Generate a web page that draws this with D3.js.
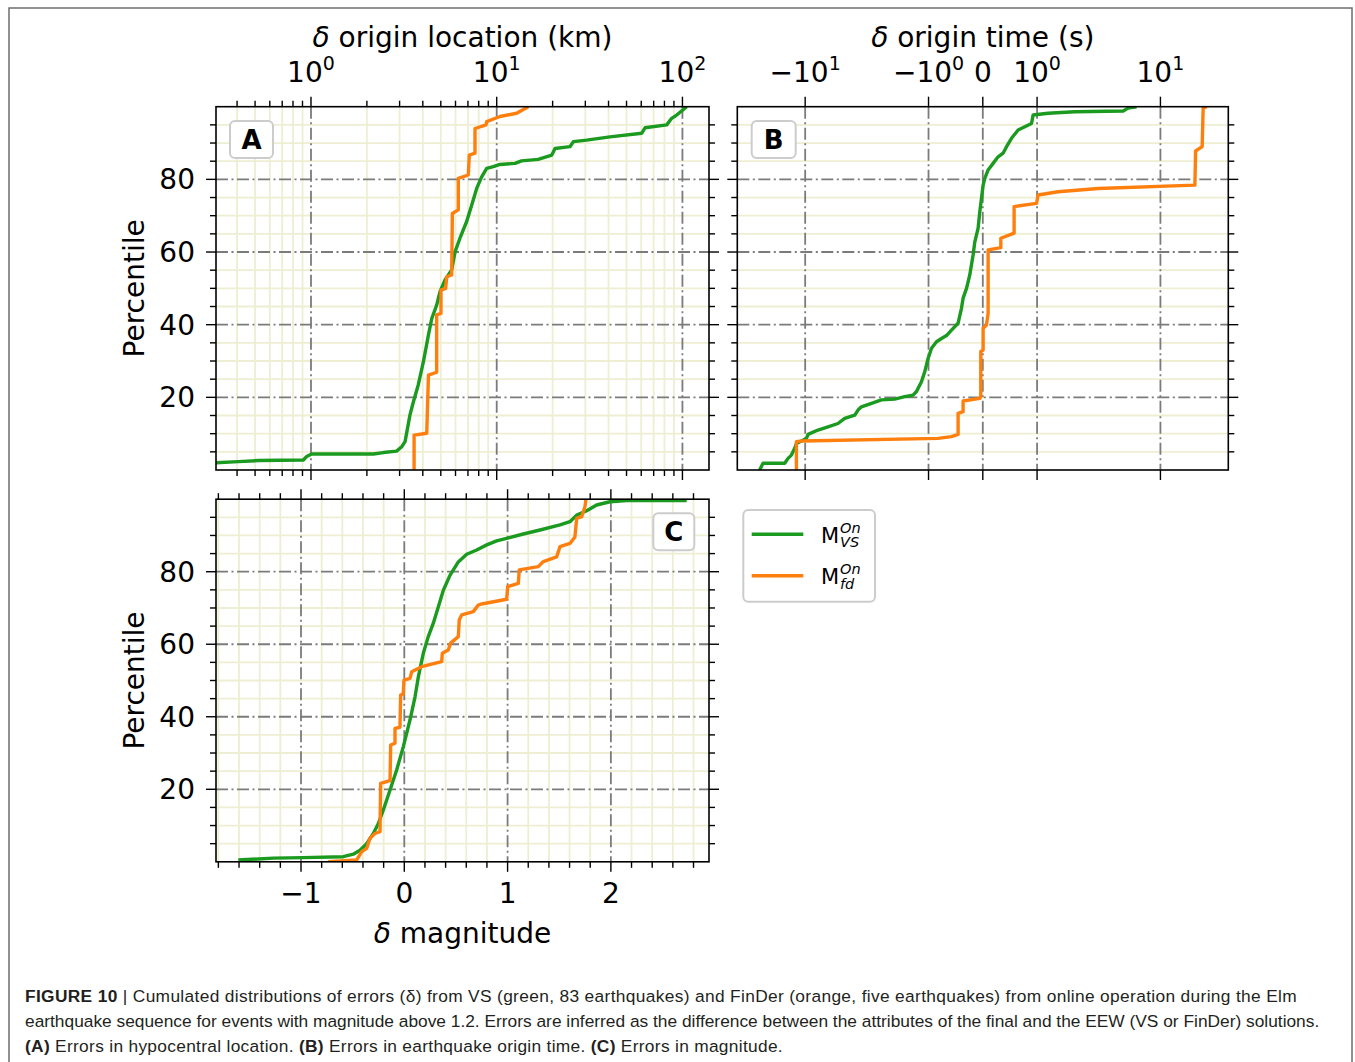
<!DOCTYPE html>
<html>
<head>
<meta charset="utf-8">
<script src="https://cdn.jsdelivr.net/npm/d3@7"></script>
<style>
  html, body { margin: 0; padding: 0; background: #fff; }
  svg { display: block; }
</style>
</head>
<body>
<svg id="fig" width="1355" height="1062"></svg>
<script>
// ---------------------------------------------------------------------------
// Cumulative error distributions (vertices of each step curve, percentile %)
// ---------------------------------------------------------------------------

// (A) origin location error, km
const locVS_km = [0.25, 0.406, 0.52, 0.909, 0.948, 1.008, 2.17, 2.45, 2.89, 3.08, 3.21, 3.41, 3.56, 3.78,
  4.03, 4.29, 4.47, 4.75, 4.95, 5.27, 5.49, 5.72, 5.97, 6.34, 6.89, 7.33, 7.80, 8.30, 8.83, 9.59, 10.4,
  12.55, 13.6, 16.7, 19.8, 20.6, 24.8, 25.9, 30.5, 40.7, 60.4, 62.9, 82.3, 87.5, 93.1, 105.5];
const locVS_pct = [1.8, 2.3, 2.6, 2.75, 3.7, 4.4, 4.4, 4.8, 5.2, 6.4, 7.8, 15.1, 18.8, 23.4,
  29.8, 37.2, 41.7, 45.4, 49.1, 52.3, 53.7, 55.1, 60.1, 63.8, 68.4, 72.9, 77.5, 80.7, 83.0, 83.5, 84.1,
  84.4, 85.1, 85.5, 86.7, 88.5, 89.0, 90.4, 90.8, 91.7, 92.7, 94.2, 95.0, 96.8, 97.7, 100];

const locFD_km = [3.59, 3.59, 4.20, 4.29, 4.75, 4.75, 5.01, 5.01, 5.31, 5.38, 5.72, 5.77, 6.21, 6.21,
  7.03, 7.12, 7.64, 7.64, 8.76, 8.83, 10.42, 12.8, 14.8];
const locFD_pct = [0, 9.6, 10.1, 26.1, 26.9, 42.7, 43.1, 49.5, 50.0, 53.2, 53.7, 70.6, 71.6, 80.3,
  81.2, 86.7, 87.2, 94.0, 95.0, 95.9, 97.3, 98.2, 100];

// (B) origin time error, s
const timeVS_s = [-23.4, -21.96, -14.65, -13.77, -12.93, -12.16, -11.78, -9.77, -9.48, -7.87, -6.53,
  -5.42, -4.78, -3.96, -3.73, -3.50, -2.90, -2.41, -1.88, -1.56, -1.335, -1.252, -1.141, -1.072, -1.008,
  -0.945, -0.853, -0.761, -0.669, -0.577, -0.455, -0.393, -0.363, -0.300, -0.240, -0.179, -0.147, -0.087,
  -0.055, -0.024, 0.006, 0.037, 0.098, 0.190, 0.282, 0.374, 0.437, 0.529, 0.651, 0.774, 0.898, 0.927,
  1.229, 2.02, 4.99, 5.47, 6.41];
const timeVS_pct = [0, 1.84, 1.84, 3.2, 4.1, 6.0, 7.3, 8.7, 9.8, 11.0, 11.9,
  12.8, 14.2, 15.1, 16.5, 17.4, 18.35, 19.3, 19.5, 20.2, 20.6, 21.6, 24.3, 27.1, 30.7,
  33.5, 35.3, 36.2, 37.0, 38.5, 40.4, 44.5, 47.3, 50.0, 53.7, 59.2, 62.8, 66.5,
  71.1, 74.8, 78.4, 80.3, 82.6, 84.4, 86.2, 87.2, 89.0, 91.3, 93.6, 94.5, 95.4, 97.7,
  98.2, 98.6, 98.8, 99.6, 100];

const timeFD_s = [-11.78, -11.78, -10.72, -0.824, -0.577, -0.455, -0.455, -0.363, -0.363, -0.055, -0.037,
  -0.037, 0.006, 0.006, 0.068, 0.098, 0.098, 0.332, 0.332, 0.577, 0.577, 0.990, 1.02, 1.48, 3.13,
  19.03, 19.28, 21.8, 22.2, 23.7];
const timeFD_pct = [0, 7.8, 8.0, 8.7, 9.2, 9.8, 15.6, 16.05, 19.0, 19.7, 20.2,
  32.6, 33.0, 39.0, 39.9, 43.1, 60.6, 61.2, 63.8, 65.2, 72.5, 73.4, 75.7, 76.6, 77.5,
  78.4, 87.8, 89.0, 99.6, 100];

// (C) magnitude error
const magVS = [-1.607, -1.268, -0.978, -0.590, -0.494, -0.429, -0.364, -0.300, -0.252, -0.203, -0.138,
  -0.074, -0.010, 0.055, 0.104, 0.136, 0.184, 0.232, 0.281, 0.329, 0.378, 0.442, 0.523, 0.604, 0.701,
  0.798, 0.894, 0.991, 1.152, 1.314, 1.507, 1.604, 1.669, 1.766, 1.862, 1.991, 2.153, 2.734];
const magVS_pct = [0.5, 1.0, 1.15, 1.4, 2.1, 3.2, 5.0, 7.8, 10.5, 14.3, 19.8,
  25.3, 31.7, 39.1, 45.5, 51.0, 57.5, 62.1, 65.8, 70.3, 74.9, 79.0, 82.7, 84.8, 86.0,
  87.4, 88.5, 89.2, 90.4, 91.5, 92.9, 93.8, 95.6, 96.8, 98.4, 99.3, 99.6, 99.6];

const magFD = [-0.736, -0.461, -0.412, -0.364, -0.332, -0.284, -0.235, -0.229, -0.138, -0.132, -0.090,
  -0.090, -0.042, -0.035, -0.010, -0.003, 0.055, 0.072, 0.168, 0.362, 0.368, 0.426, 0.449, 0.523, 0.532,
  0.556, 0.668, 0.716, 0.749, 0.991, 1.001, 1.104, 1.113, 1.297, 1.346, 1.475, 1.507, 1.604, 1.652,
  1.669, 1.717, 1.733, 1.749, 1.759];
const magFD_pct = [0, 0.5, 2.8, 3.7, 6.5, 7.8, 8.3, 21.65, 22.4, 32.2, 32.7,
  36.8, 37.1, 46.0, 46.3, 50.1, 50.6, 52.4, 53.8, 55.2, 57.5, 58.4, 60.3, 62.1, 66.7,
  68.1, 69.0, 70.8, 71.1, 72.4, 75.9, 76.8, 80.5, 81.4, 82.8, 84.1, 86.9, 87.8, 89.6,
  94.7, 95.2, 96.5, 97.9, 100];

// Axis tick values and labels
const pctMajor = [20, 40, 60, 80];
const locMajor = [1, 10, 100];
const locMajorExp = ['0', '1', '2'];
const timeMajor = [-10, -1, 0, 1, 10];
const timeMajorLabels = [['\u2212', '1'], ['\u2212', '0'], ['0', null], ['', '0'], ['', '1']];
const magMajor = [-1, 0, 1, 2];
const magMajorLabels = ['\u22121', '0', '1', '2'];

const seriesNames = ['VS', 'fd'];

// ---------------------------------------------------------------------------
const FONT = "'DejaVu Sans', sans-serif";
const GREEN = '#1a9a1f';
const ORANGE = '#ff7f0e';
const MINOR_GRID = '#eeeed3';
const MAJOR_GRID = '#7b7b7b';
const LINE_W = 3.4;

const svg = d3.select('#fig');

// outer figure frame
svg.append('rect').attr('x', 9).attr('y', 8).attr('width', 1343).attr('height', 1100)
  .attr('fill', 'none').attr('stroke', '#6e6e6e').attr('stroke-width', 1.5);

// symmetric-log transform (linear within |v| < 1)
const LINSCALE = 0.44;
const symT = v => Math.abs(v) <= 1 ? v * LINSCALE : Math.sign(v) * (LINSCALE + Math.log10(Math.abs(v)));

const yA = d3.scaleLinear().domain([0, 100]).range([470, 106.7]);
const yC = d3.scaleLinear().domain([0, 100]).range([861.8, 499.2]);
const xA = d3.scaleLog().domain([0.308, 139]).range([216, 709]);
const xBlin = d3.scaleLinear().domain([symT(-35.5), symT(35.5)]).range([737.3, 1228.3]);
const xB = v => xBlin(symT(v));
const xC = d3.scaleLinear().domain([-1.823, 2.95]).range([216, 709]);

const yMinor = d3.range(5, 100, 5).filter(v => v % 20 !== 0);

function drawPanel(p) {
  const g = svg.append('g');
  const { left, right, top, bottom, X, Y } = p;

  // minor grid
  const mg = g.append('g').attr('stroke', MINOR_GRID).attr('stroke-width', 1.8);
  yMinor.forEach(v => mg.append('line').attr('x1', left).attr('x2', right).attr('y1', Y(v)).attr('y2', Y(v)));
  (p.xMinorGrid || []).forEach(v => mg.append('line').attr('x1', X(v)).attr('x2', X(v)).attr('y1', top).attr('y2', bottom));

  // major grid, dash-dot
  const jg = g.append('g').attr('stroke', MAJOR_GRID).attr('stroke-width', 1.8)
    .attr('stroke-dasharray', '12,3.5,2,3.5');
  pctMajor.forEach(v => jg.append('line').attr('x1', left).attr('x2', right).attr('y1', Y(v)).attr('y2', Y(v)));
  p.xMajor.forEach(v => jg.append('line').attr('x1', X(v)).attr('x2', X(v)).attr('y1', top).attr('y2', bottom));

  // data curves
  svg.append('clipPath').attr('id', p.id).append('rect')
    .attr('x', left).attr('y', top).attr('width', right - left).attr('height', bottom - top);
  const lg = g.append('g').attr('clip-path', `url(#${p.id})`);
  const line = d3.line().x(d => X(d[0])).y(d => Y(d[1]));
  p.series.forEach(s => {
    lg.append('path').datum(d3.zip(s.x, s.y)).attr('d', line)
      .attr('fill', 'none').attr('stroke', s.color).attr('stroke-width', LINE_W)
      .attr('stroke-linejoin', 'round');
  });

  // frame
  g.append('rect').attr('x', left).attr('y', top).attr('width', right - left).attr('height', bottom - top)
    .attr('fill', 'none').attr('stroke', '#000').attr('stroke-width', 1.6);

  // ticks (outward, on all four sides)
  const tk = g.append('g').attr('stroke', '#000').attr('stroke-width', 1.4);
  const MAJ = 10, MIN = 6;
  pctMajor.forEach(v => {
    tk.append('line').attr('x1', left - MAJ).attr('x2', left).attr('y1', Y(v)).attr('y2', Y(v));
    tk.append('line').attr('x1', right).attr('x2', right + MAJ).attr('y1', Y(v)).attr('y2', Y(v));
  });
  yMinor.forEach(v => {
    tk.append('line').attr('x1', left - MIN).attr('x2', left).attr('y1', Y(v)).attr('y2', Y(v));
    tk.append('line').attr('x1', right).attr('x2', right + MIN).attr('y1', Y(v)).attr('y2', Y(v));
  });
  p.xMajor.forEach(v => {
    tk.append('line').attr('x1', X(v)).attr('x2', X(v)).attr('y1', top - MAJ).attr('y2', top);
    tk.append('line').attr('x1', X(v)).attr('x2', X(v)).attr('y1', bottom).attr('y2', bottom + MAJ);
  });
  (p.xMinorTicks || []).forEach(v => {
    tk.append('line').attr('x1', X(v)).attr('x2', X(v)).attr('y1', top - MIN).attr('y2', top);
    tk.append('line').attr('x1', X(v)).attr('x2', X(v)).attr('y1', bottom).attr('y2', bottom + MIN);
  });

  // y tick labels
  if (p.yLabels) {
    pctMajor.forEach(v => {
      g.append('text').attr('x', left - 21).attr('y', Y(v)).attr('dy', '0.36em')
        .attr('text-anchor', 'end').attr('font-family', FONT).attr('font-size', 28)
        .attr('fill', '#000').text(v);
    });
    g.append('text').attr('transform', `translate(144,${(top + bottom) / 2}) rotate(-90)`)
      .attr('text-anchor', 'middle').attr('font-family', FONT).attr('font-size', 28)
      .attr('fill', '#000').text('Percentile');
  }

  // panel letter
  const b = p.badge;
  g.append('rect').attr('x', b.x).attr('y', b.y).attr('width', b.w).attr('height', 37).attr('rx', 5)
    .attr('fill', '#fff').attr('stroke', '#cccccc').attr('stroke-width', 2);
  g.append('text').attr('x', b.x + b.w / 2).attr('y', b.y + 28).attr('text-anchor', 'middle')
    .attr('font-family', FONT).attr('font-weight', 'bold').attr('font-size', 26)
    .attr('fill', '#000').text(b.t);
  return g;
}

function axisTitle(x, y, rest) {
  const t = svg.append('text').attr('x', x).attr('y', y).attr('text-anchor', 'middle')
    .attr('font-family', FONT).attr('font-size', 28).attr('fill', '#000');
  t.append('tspan').attr('font-style', 'italic').text('\u03b4');
  t.append('tspan').text(' ' + rest);
}

function powLabel(x, y, prefix, exp) {
  const t = svg.append('text').attr('x', x).attr('y', y).attr('text-anchor', 'middle')
    .attr('font-family', FONT).attr('font-size', 28).attr('fill', '#000');
  t.append('tspan').text(prefix + '10');
  t.append('tspan').attr('font-size', 19).attr('dy', -12).text(exp);
}

// ---------------------------------------------------------------------------
// Panel A: log x-axis on top
const locTicks = xA.ticks();
drawPanel({
  id: 'clipA', left: 216, right: 709, top: 106.7, bottom: 470, X: xA, Y: yA,
  xMajor: locMajor,
  xMinorGrid: locTicks.filter(v => !locMajor.includes(v)),
  xMinorTicks: locTicks.filter(v => !locMajor.includes(v)),
  yLabels: true,
  badge: { x: 230, y: 121, w: 43, t: 'A' },
  series: [
    { x: locVS_km, y: locVS_pct, color: GREEN },
    { x: locFD_km, y: locFD_pct, color: ORANGE }
  ]
});
locMajor.forEach((v, i) => powLabel(xA(v), 81.7, '', locMajorExp[i]));
axisTitle(462.5, 47, 'origin location (km)');

// Panel B: symmetric log x-axis on top
drawPanel({
  id: 'clipB', left: 737.3, right: 1228.3, top: 106.7, bottom: 470, X: xB, Y: yA,
  xMajor: timeMajor,
  xMinorGrid: [], xMinorTicks: [],
  yLabels: false,
  badge: { x: 751.7, y: 121, w: 44, t: 'B' },
  series: [
    { x: timeVS_s, y: timeVS_pct, color: GREEN },
    { x: timeFD_s, y: timeFD_pct, color: ORANGE }
  ]
});
timeMajor.forEach((v, i) => {
  const [pre, ex] = timeMajorLabels[i];
  if (ex === null) {
    svg.append('text').attr('x', xB(v)).attr('y', 81.7).attr('text-anchor', 'middle')
      .attr('font-family', FONT).attr('font-size', 28).attr('fill', '#000').text(pre);
  } else {
    powLabel(xB(v), 81.7, pre, ex);
  }
});
axisTitle(982.8, 47, 'origin time (s)');

// Panel C: linear magnitude axis at bottom
const magMinor = d3.range(-9, 15).map(i => i / 5).filter(v => !magMajor.some(m => Math.abs(m - v) < 1e-9));
drawPanel({
  id: 'clipC', left: 216, right: 709, top: 499.2, bottom: 861.8, X: xC, Y: yC,
  xMajor: magMajor,
  xMinorGrid: magMinor, xMinorTicks: magMinor,
  yLabels: true,
  badge: { x: 653.3, y: 513.3, w: 41, t: 'C' },
  series: [
    { x: magVS, y: magVS_pct, color: GREEN },
    { x: magFD, y: magFD_pct, color: ORANGE }
  ]
});
magMajor.forEach((v, i) => {
  svg.append('text').attr('x', xC(v)).attr('y', 903).attr('text-anchor', 'middle')
    .attr('font-family', FONT).attr('font-size', 28).attr('fill', '#000').text(magMajorLabels[i]);
});
axisTitle(462.5, 943, 'magnitude');

// ---------------------------------------------------------------------------
// Legend
const leg = svg.append('g');
leg.append('rect').attr('x', 743.3).attr('y', 510).attr('width', 131.7).attr('height', 91.7).attr('rx', 5)
  .attr('fill', '#fff').attr('stroke', '#cccccc').attr('stroke-width', 2);
[{ c: GREEN, y: 534.3 }, { c: ORANGE, y: 575.7 }].forEach((e, i) => {
  leg.append('line').attr('x1', 751.7).attr('x2', 803.3).attr('y1', e.y).attr('y2', e.y)
    .attr('stroke', e.c).attr('stroke-width', LINE_W);
  const base = e.y + 8.4;
  leg.append('text').attr('x', 821).attr('y', base).attr('font-family', FONT).attr('font-size', 21)
    .attr('fill', '#000').text('M');
  leg.append('text').attr('x', 840).attr('y', base - 10).attr('font-family', FONT).attr('font-size', 14.5)
    .attr('font-style', 'italic').attr('fill', '#000').text('On');
  leg.append('text').attr('x', 840).attr('y', base + 4.6).attr('font-family', FONT).attr('font-size', 14.5)
    .attr('font-style', 'italic').attr('fill', '#000').text(seriesNames[i]);
});

// ---------------------------------------------------------------------------
// Caption
const CAP_FONT = "'Liberation Sans', Arial, sans-serif";
const capLines = [
  [['FIGURE 10', true], [' | Cumulated distributions of errors (\u03b4) from VS (green, 83 earthquakes) and FinDer (orange, five earthquakes) from online operation during the Elm', false]],
  [['earthquake sequence for events with magnitude above 1.2. Errors are inferred as the difference between the attributes of the final and the EEW (VS or FinDer) solutions.', false]],
  [['(A)', true], [' Errors in hypocentral location. ', false], ['(B)', true], [' Errors in earthquake origin time. ', false], ['(C)', true], [' Errors in magnitude.', false]]
];
const capBase = [1001.7, 1026.7, 1051.7];
const capWidth = [1272, 1295, 758];
const capTexts = capLines.map((parts, i) => {
  const t = svg.append('text').attr('x', 25).attr('y', capBase[i]).attr('font-family', CAP_FONT)
    .attr('font-size', 16).attr('fill', '#231f20').attr('xml:space', 'preserve');
  parts.forEach(([s, bold]) => t.append('tspan').attr('font-weight', bold ? 'bold' : 'normal').text(s));
  return t;
});
// font size set by the full-width second line; the other lines get a little tracking
const w2 = capTexts[1].node().getComputedTextLength();
const capSize = 16 * capWidth[1] / w2;
capTexts.forEach(t => t.attr('font-size', capSize));
[0, 2].forEach(i => {
  const t = capTexts[i];
  const n = t.text().length;
  const w = t.node().getComputedTextLength();
  const ls = Math.max(0, (capWidth[i] - w) / n);
  t.attr('letter-spacing', ls.toFixed(3));
});
</script>
</body>
</html>
